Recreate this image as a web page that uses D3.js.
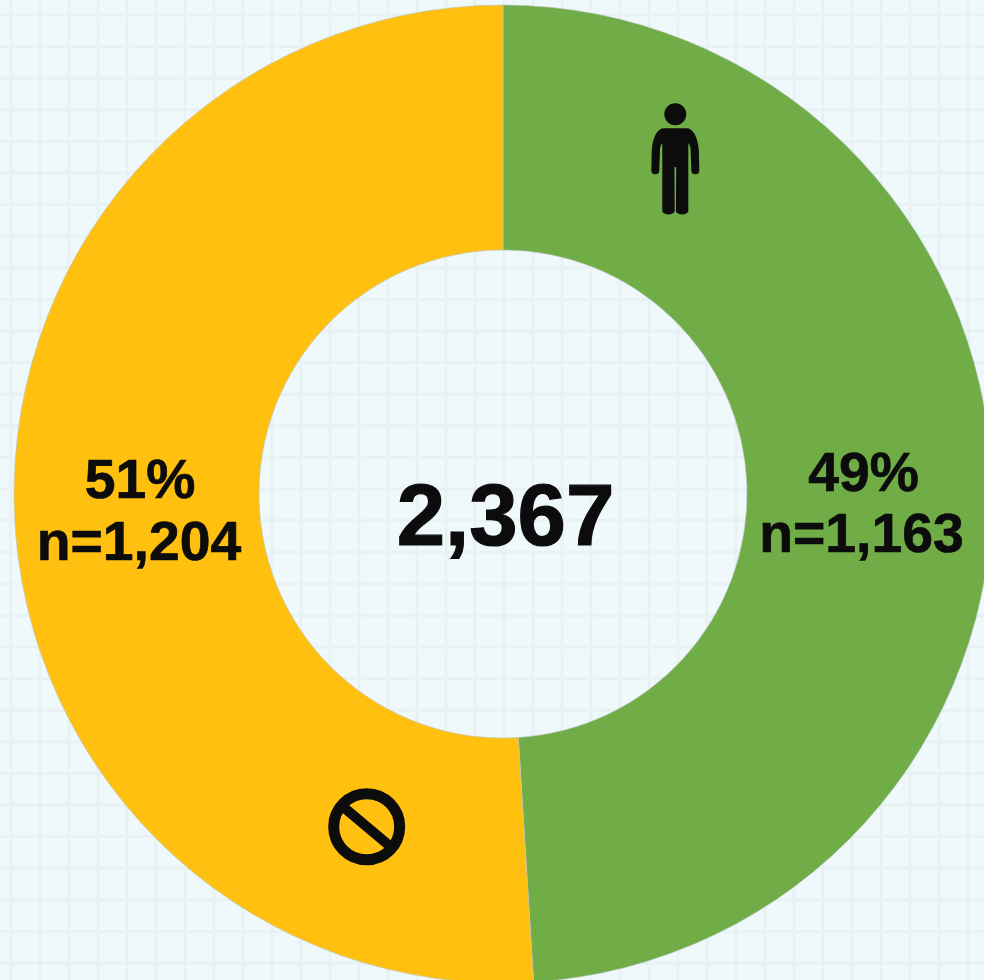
<!DOCTYPE html>
<html lang="en">
<head>
    <meta charset="UTF-8">
    <title>Donut chart</title>
    <script src="https://d3js.org/d3.v7.min.js"></script>
    <style>
        html, body { margin: 0; padding: 0; background: #eff8fa; overflow: hidden; }
        svg { display: block; }
        text { font-family: "Liberation Sans", Arial, sans-serif; font-weight: bold; fill: #0c0c0c; stroke: #0c0c0c; }
    </style>
</head>
<body>
<svg></svg>
<script type="text/javascript">

    // chart data
    var categories = ["Yes", "No"];
    var shares     = [49, 51];
    var counts     = [1163, 1204];
    var total      = 2367;
    var colors     = ["#70ad47", "#ffc010"];

    var width  = 984;
    var height = 980;
    var cx = 503, cy = 494;
    var outerR = 489, innerR = 244;

    var svg = d3.select("svg")
        .attr("width", width)
        .attr("height", height);

    // faint squared paper in the background
    var grid = svg.append("g")
        .attr("stroke", "#e8f1f4")
        .attr("stroke-width", 3);
    grid.selectAll("line.v")
        .data(d3.range(11, width, 29))
        .enter().append("line")
        .attr("class", "v")
        .attr("x1", function(d) { return d; })
        .attr("x2", function(d) { return d; })
        .attr("y1", 0)
        .attr("y2", height);
    grid.selectAll("line.h")
        .data(d3.range(15, height, 31.6))
        .enter().append("line")
        .attr("class", "h")
        .attr("y1", function(d) { return d; })
        .attr("y2", function(d) { return d; })
        .attr("x1", 0)
        .attr("x2", width);

    // donut, clockwise from 12 o'clock, no sorting so green stays on the right
    var pie = d3.pie().sort(null)(shares);
    var arc = d3.arc().innerRadius(innerR).outerRadius(outerR);

    var chart = svg.append("g")
        .attr("transform", "translate(" + cx + "," + cy + ")");

    chart.selectAll("path")
        .data(pie)
        .enter().append("path")
        .attr("d", arc)
        .attr("fill", function(d, i) { return colors[i]; })
        .attr("stroke", "#b9c4c4")
        .attr("stroke-width", 0.6);

    // slice labels, placed by hand like the original
    var labelPos = [[861.5, 491, 552], [139, 498, 560]];
    var fmt = d3.format(",d");

    categories.forEach(function(c, i) {
        var g = svg.append("g").attr("text-anchor", "middle").attr("font-size", 55.3).attr("stroke-width", 0.7);
        g.append("text")
            .attr("x", labelPos[i][0] + (i == 0 ? 2 : 1))
            .attr("y", labelPos[i][1])
            .text(shares[i] + "%");
        g.append("text")
            .attr("x", labelPos[i][0])
            .attr("y", labelPos[i][2])
            .text("n=" + fmt(counts[i]));
    });

    // total in the hole
    svg.append("text")
        .attr("x", 505.5)
        .attr("y", 545)
        .attr("text-anchor", "middle")
        .attr("font-size", 87)
        .attr("stroke-width", 1.2)
        .text(fmt(total));

    // person icon
    var person = svg.append("g")
        .attr("transform", "translate(675.3,114.3)")
        .attr("fill", "#0c0c0c");
    person.append("circle").attr("r", 11);
    person.append("path")
        .attr("d", "M-11,14 L11,14 C18,14 22,22 23.5,35 L24,56 A4,4 0 0 1 16,56 L15.3,34 Q14.5,30 13,29 L13,97 A6.5,4.5 0 0 1 0.6,97 L0.9,53 L-0.9,53 L-0.6,97 A6.5,4.5 0 0 1 -13,97 L-13,29 Q-14.5,30 -15.3,34 L-16,56 A4,4 0 0 1 -24,56 L-23.5,35 C-22,22 -18,14 -11,14 Z");

    // "no" icon
    var noSign = svg.append("g")
        .attr("transform", "translate(366.7,826.7)")
        .attr("fill", "none")
        .attr("stroke", "#0c0c0c");
    noSign.append("circle").attr("r", 33).attr("stroke-width", 11);
    noSign.append("line")
        .attr("x1", -25).attr("y1", -21)
        .attr("x2", 25).attr("y2", 21)
        .attr("stroke-width", 10);

</script>
</body>
</html>
